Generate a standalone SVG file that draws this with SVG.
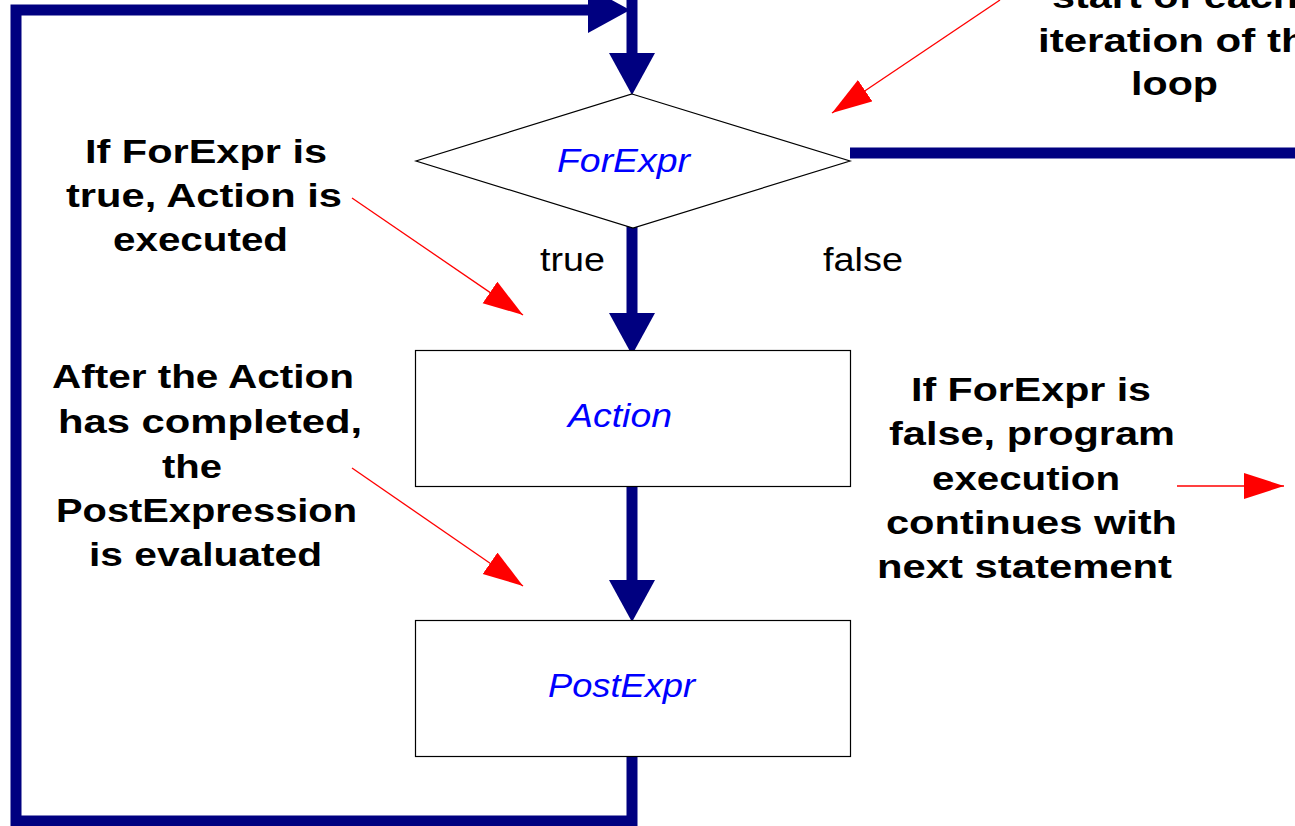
<svg xmlns="http://www.w3.org/2000/svg" width="1295" height="826" viewBox="0 0 1295 826">
  <style>
    .node { fill: #ffffff; stroke: #000000; stroke-width: 1.2; }
    .flow { fill: none; stroke: #000080; stroke-width: 11; stroke-linejoin: miter; }
    .note { fill: none; stroke: #ff0000; stroke-width: 1.3; }
    .nlabel { font-family: "Liberation Sans", Arial, sans-serif; font-style: italic; font-size: 33px; fill: #0000ff; }
    .plain { font-family: "Liberation Sans", Arial, sans-serif; font-size: 33px; fill: #000000; }
    .bold { font-family: "Liberation Sans", Arial, sans-serif; font-weight: bold; font-size: 34px; fill: #000000; }
  </style>
  <defs>
    <marker id="bluehead" markerUnits="userSpaceOnUse" markerWidth="44" markerHeight="48" refX="0" refY="23" orient="auto" viewBox="0 0 44 48">
      <path d="M0,0 L42,23 L0,46 Z" fill="#000080"/>
    </marker>
    <marker id="redhead" markerUnits="userSpaceOnUse" markerWidth="42" markerHeight="28" refX="40" refY="13" orient="auto" viewBox="0 0 42 28">
      <path d="M0,0 L40,13 L0,26 Z" fill="#ff0000"/>
    </marker>
  </defs>

  <g id="connectors">
    <path class="flow" d="M632,0 V53" marker-end="url(#bluehead)"/>
    <path class="flow" d="M632,756 V821 H16 V10 H588" marker-end="url(#bluehead)"/>
    <path class="flow" d="M632,222 V313" marker-end="url(#bluehead)"/>
    <path class="flow" d="M632,486 V580" marker-end="url(#bluehead)"/>
    <path class="flow" d="M850,153 H1300"/>
    <text class="plain" x="540" y="271" textLength="65" lengthAdjust="spacingAndGlyphs">true</text>
    <text class="plain" x="823" y="271" textLength="80" lengthAdjust="spacingAndGlyphs">false</text>
  </g>

  <g id="node-forexpr">
    <polygon class="node" points="632,94 850,161 633,228 416,161"/>
    <text class="nlabel" x="557" y="172" textLength="133" lengthAdjust="spacingAndGlyphs">ForExpr</text>
  </g>

  <g id="node-action">
    <rect class="node" x="415.5" y="350.5" width="435" height="136"/>
    <text class="nlabel" x="568" y="427" textLength="104" lengthAdjust="spacingAndGlyphs">Action</text>
  </g>

  <g id="node-postexpr">
    <rect class="node" x="415.5" y="620.5" width="435" height="136"/>
    <text class="nlabel" x="548" y="697" textLength="147" lengthAdjust="spacingAndGlyphs">PostExpr</text>
  </g>

  <g id="note-true">
    <text class="bold" x="85" y="163" textLength="242" lengthAdjust="spacingAndGlyphs">If ForExpr is</text>
    <text class="bold" x="66" y="207" textLength="276" lengthAdjust="spacingAndGlyphs">true, Action is</text>
    <text class="bold" x="113" y="251" textLength="175" lengthAdjust="spacingAndGlyphs">executed</text>
    <line class="note" x1="352" y1="198" x2="523" y2="315" marker-end="url(#redhead)"/>
  </g>

  <g id="note-after">
    <text class="bold" x="52" y="388" textLength="302" lengthAdjust="spacingAndGlyphs">After the Action</text>
    <text class="bold" x="58" y="433" textLength="304" lengthAdjust="spacingAndGlyphs">has completed,</text>
    <text class="bold" x="162" y="478" textLength="60" lengthAdjust="spacingAndGlyphs">the</text>
    <text class="bold" x="56" y="522" textLength="301" lengthAdjust="spacingAndGlyphs">PostExpression</text>
    <text class="bold" x="89" y="566" textLength="233" lengthAdjust="spacingAndGlyphs">is evaluated</text>
    <line class="note" x1="352" y1="468" x2="523" y2="586" marker-end="url(#redhead)"/>
  </g>

  <g id="note-false">
    <text class="bold" x="911" y="401" textLength="240" lengthAdjust="spacingAndGlyphs">If ForExpr is</text>
    <text class="bold" x="889" y="445" textLength="286" lengthAdjust="spacingAndGlyphs">false, program</text>
    <text class="bold" x="932" y="490" textLength="188" lengthAdjust="spacingAndGlyphs">execution</text>
    <text class="bold" x="886" y="534" textLength="291" lengthAdjust="spacingAndGlyphs">continues with</text>
    <text class="bold" x="877" y="578" textLength="295" lengthAdjust="spacingAndGlyphs">next statement</text>
    <line class="note" x1="1177" y1="486" x2="1284" y2="486" marker-end="url(#redhead)"/>
  </g>

  <g id="note-start">
    <text class="bold" x="1052" y="8" textLength="246" lengthAdjust="spacingAndGlyphs">start of each</text>
    <text class="bold" x="1038" y="52" textLength="292" lengthAdjust="spacingAndGlyphs">iteration of the</text>
    <text class="bold" x="1131" y="95" textLength="87" lengthAdjust="spacingAndGlyphs">loop</text>
    <line class="note" x1="1000" y1="0" x2="832" y2="113" marker-end="url(#redhead)"/>
  </g>
</svg>
